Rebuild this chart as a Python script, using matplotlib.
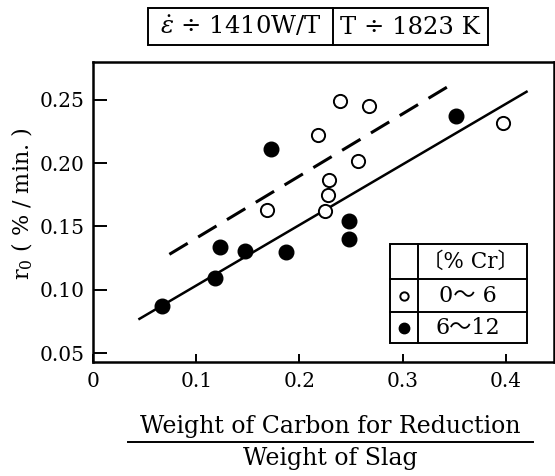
import matplotlib

matplotlib.use("Agg")
import matplotlib.pyplot as plt
from matplotlib.lines import Line2D
from matplotlib.patches import Rectangle

W, H = 555, 476

# data
open_x = [0.169, 0.218, 0.225, 0.228, 0.229, 0.239, 0.257, 0.267, 0.397]
open_y = [0.163, 0.222, 0.162, 0.175, 0.187, 0.249, 0.202, 0.245, 0.232]
filled_x = [0.067, 0.118, 0.123, 0.147, 0.172, 0.187, 0.248, 0.248, 0.352]
filled_y = [0.087, 0.109, 0.134, 0.131, 0.211, 0.130, 0.154, 0.140, 0.237]
solid_x = [0.045, 0.420]
solid_y = [0.077, 0.2565]
dashed_x = [0.074, 0.350]
dashed_y = [0.128, 0.2636]

x_ticks = [0, 0.1, 0.2, 0.3, 0.4]
x_ticklabels = ["0", "0.1", "0.2", "0.3", "0.4"]
y_ticks = [0.05, 0.10, 0.15, 0.20, 0.25]
y_ticklabels = ["0.05", "0.10", "0.15", "0.20", "0.25"]

legend_header = "〔% Cr〕"
legend_labels = ["0～ 6", "6～12"]
title_cells = [r"$\dot{\varepsilon}$ ÷ 1410W/T", "T ÷ 1823 K"]
xlabel_top = "Weight of Carbon for Reduction"
xlabel_bottom = "Weight of Slag"

FONT = ["DejaVu Serif", "Noto Sans CJK JP"]
plt.rcParams["font.family"] = FONT
plt.rcParams["mathtext.fontset"] = "dejavuserif"


def fx(x):
    return x / W


def fy(y):
    return 1 - y / H


fig = plt.figure(figsize=(W / 100, H / 100), dpi=100)
ax = fig.add_axes([fx(93), fy(362), fx(554) - fx(93), fy(62) - fy(362)])

ax.plot(solid_x, solid_y, color="black", lw=1.8)
ax.plot(dashed_x, dashed_y, color="black", lw=2.2, dashes=(7, 4))
ax.plot(open_x, open_y, "o", ms=9.5, mfc="white", mec="black", mew=1.4)
ax.plot(filled_x, filled_y, "o", ms=10.5, mfc="black", mec="black")

ax.set_xlim(0, 0.4466)
ax.set_ylim(0.0429, 0.280)
ax.set_xticks(x_ticks)
ax.set_xticklabels(x_ticklabels)
ax.set_yticks(y_ticks)
ax.set_yticklabels(y_ticklabels)
ax.tick_params(axis="x", direction="in", length=6, width=1.4, labelsize=14.5, pad=7)
ax.tick_params(axis="y", direction="in", length=10, width=1.4, labelsize=14.5, pad=6)
for spine in ax.spines.values():
    spine.set_linewidth(1.8)

# y label
fig.text(fx(22), fy(204), r"r$_0$ ( % / min. )", rotation=90,
         ha="center", va="center", fontsize=16)

# x label as a fraction
fig.text(fx(330), fy(426), xlabel_top, ha="center", va="center", fontsize=17)
fig.add_artist(Line2D([fx(128), fx(533)], [fy(442), fy(442)], color="black", lw=1.4))
fig.text(fx(330), fy(459), xlabel_bottom, ha="center", va="center", fontsize=17)

# condition box at the top
bx0, bxd, bx1, by0, by1 = 148, 333, 488, 8, 45
fig.add_artist(Rectangle((fx(bx0), fy(by1)), fx(bx1) - fx(bx0), fy(by0) - fy(by1),
                         fill=False, lw=1.4, ec="black"))
fig.add_artist(Line2D([fx(bxd), fx(bxd)], [fy(by0), fy(by1)], color="black", lw=1.4))
fig.text(fx(241), fy(27), title_cells[0], ha="center", va="center", fontsize=17.5)
fig.text(fx(410), fy(27), title_cells[1], ha="center", va="center", fontsize=17.5)

# legend table inside the axes
lx0, lx1, lxd = 390, 527, 418
ly0, ly1, ly2, ly3 = 244, 279, 312, 343
fig.add_artist(Rectangle((fx(lx0), fy(ly3)), fx(lx1) - fx(lx0), fy(ly0) - fy(ly3),
                         fill=True, fc="white", lw=1.4, ec="black", zorder=5))
fig.add_artist(Line2D([fx(lxd), fx(lxd)], [fy(ly0), fy(ly3)], color="black", lw=1.4, zorder=6))
for yy in (ly1, ly2):
    fig.add_artist(Line2D([fx(lx0), fx(lx1)], [fy(yy), fy(yy)], color="black", lw=1.4, zorder=6))
fig.text(fx(470), fy(262), legend_header, ha="center", va="center", fontsize=15.5, zorder=7)
fig.add_artist(Line2D([fx(404)], [fy(296)], marker="o", ms=6, mfc="white", mec="black",
                      mew=1.4, zorder=7))
fig.add_artist(Line2D([fx(404)], [fy(328)], marker="o", ms=7.5, mfc="black", mec="black", zorder=7))
fig.text(fx(468), fy(296), legend_labels[0], ha="center", va="center", fontsize=16, zorder=7)
fig.text(fx(468), fy(328), legend_labels[1], ha="center", va="center", fontsize=16, zorder=7)

fig.savefig("out.png", dpi=100)
